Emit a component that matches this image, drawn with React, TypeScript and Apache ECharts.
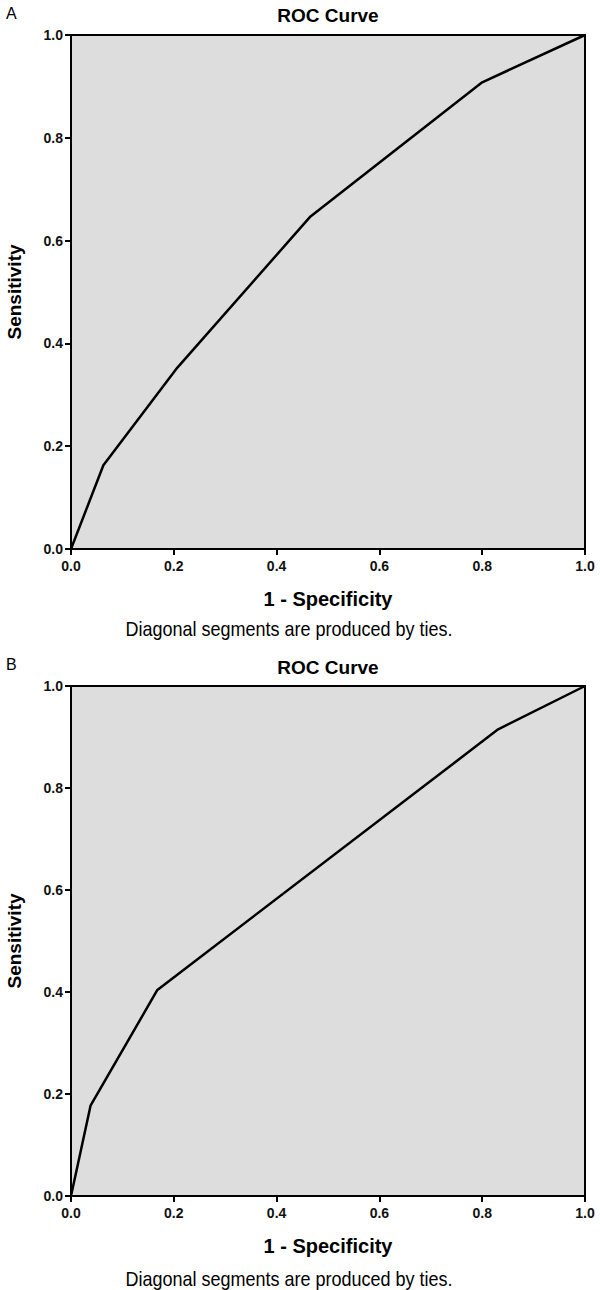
import React, { useEffect, useRef } from "react";
import * as echarts from "echarts";

const chartTitle = "ROC Curve";
const panelLabels = ["A", "B"];
const xAxisName = "1 - Specificity";
const yAxisName = "Sensitivity";
const footnote = "Diagonal segments are produced by ties.";

// ROC points [1 - specificity, sensitivity]
const rocA: [number, number][] = [
  [0, 0],
  [0.063, 0.163],
  [0.207, 0.353],
  [0.466, 0.647],
  [0.8, 0.908],
  [1, 1],
];
const rocB: [number, number][] = [
  [0, 0],
  [0.038, 0.177],
  [0.168, 0.404],
  [0.831, 0.915],
  [1, 1],
];

const FONT = "'Liberation Sans', Arial, sans-serif";

export default function App() {
  const ref = useRef<HTMLDivElement>(null);
  useEffect(() => {
    if (!ref.current) return;
    const chart = echarts.init(ref.current, null, { renderer: "svg" });
    const grids = [
      { left: 71, top: 35, width: 514, height: 514 },
      { left: 71, top: 686, width: 514, height: 510 },
    ];
    const axisCommon = {
      type: "value",
      min: 0,
      max: 1,
      interval: 0.2,
      splitLine: { show: false },
      axisLine: { show: true, lineStyle: { color: "#000", width: 2 } },
      axisTick: { show: true, inside: false, length: 6, lineStyle: { color: "#000", width: 2 } },
      nameLocation: "middle",
      nameTextStyle: { fontFamily: FONT, fontSize: 20, fontWeight: "bold", color: "#000" },
    };
    const xAxes = grids.map((_, i) => ({
      ...axisCommon,
      gridIndex: i,
      name: xAxisName,
      nameGap: 40,
      axisLabel: {
        fontFamily: FONT,
        fontSize: 14,
        fontWeight: "bold",
        color: "#111",
        margin: 10,
        formatter: (v: number) => v.toFixed(1),
      },
    }));
    const yAxes = grids.map((_, i) => ({
      ...axisCommon,
      gridIndex: i,
      name: yAxisName,
      nameGap: 47,
      nameTextStyle: { fontFamily: FONT, fontSize: 19, fontWeight: "bold", color: "#000" },
      axisLabel: {
        fontFamily: FONT,
        fontSize: 14,
        fontWeight: "bold",
        color: "#111",
        margin: 8,
        formatter: (v: number) => v.toFixed(1),
      },
    }));
    const titleYs = [15, 667];
    const labelYs = [13, 664];
    const noteYs = [629, 1279];
    const graphic: any[] = [];
    for (let i = 0; i < 2; i++) {
      graphic.push({
        type: "text",
        x: 328,
        y: titleYs[i],
        style: {
          text: chartTitle,
          fontFamily: FONT,
          fontSize: 19,
          fontWeight: "bold",
          fill: "#000",
          align: "center",
          verticalAlign: "middle",
        },
      });
      graphic.push({
        type: "text",
        x: 6,
        y: labelYs[i],
        style: {
          text: panelLabels[i],
          fontFamily: FONT,
          fontSize: 16,
          fill: "#000",
          align: "left",
          verticalAlign: "middle",
        },
      });
      graphic.push({
        type: "text",
        x: 289,
        y: noteYs[i],
        scaleX: 0.9,
        style: {
          text: footnote,
          fontFamily: FONT,
          fontSize: 20,
          fill: "#000",
          align: "center",
          verticalAlign: "middle",
        },
        originX: 0,
      });
    }
    chart.setOption({
      animation: false,
      backgroundColor: "#fff",
      grid: grids.map((g) => ({
        ...g,
        show: true,
        backgroundColor: "#dddddd",
        borderColor: "#000",
        borderWidth: 2,
        containLabel: false,
        outerBoundsMode: "none",
      })),
      xAxis: xAxes,
      yAxis: yAxes,
      series: [rocA, rocB].map((d, i) => ({
        type: "line",
        xAxisIndex: i,
        yAxisIndex: i,
        data: d,
        showSymbol: false,
        symbol: "none",
        lineStyle: { color: "#000", width: 2.5 },
        silent: true,
      })),
      graphic,
    });
    return () => chart.dispose();
  }, []);
  return (
    <div
      ref={ref}
      style={{ position: "absolute", left: 0, top: 0, width: 600, height: 1290, background: "#fff" }}
    />
  );
}
